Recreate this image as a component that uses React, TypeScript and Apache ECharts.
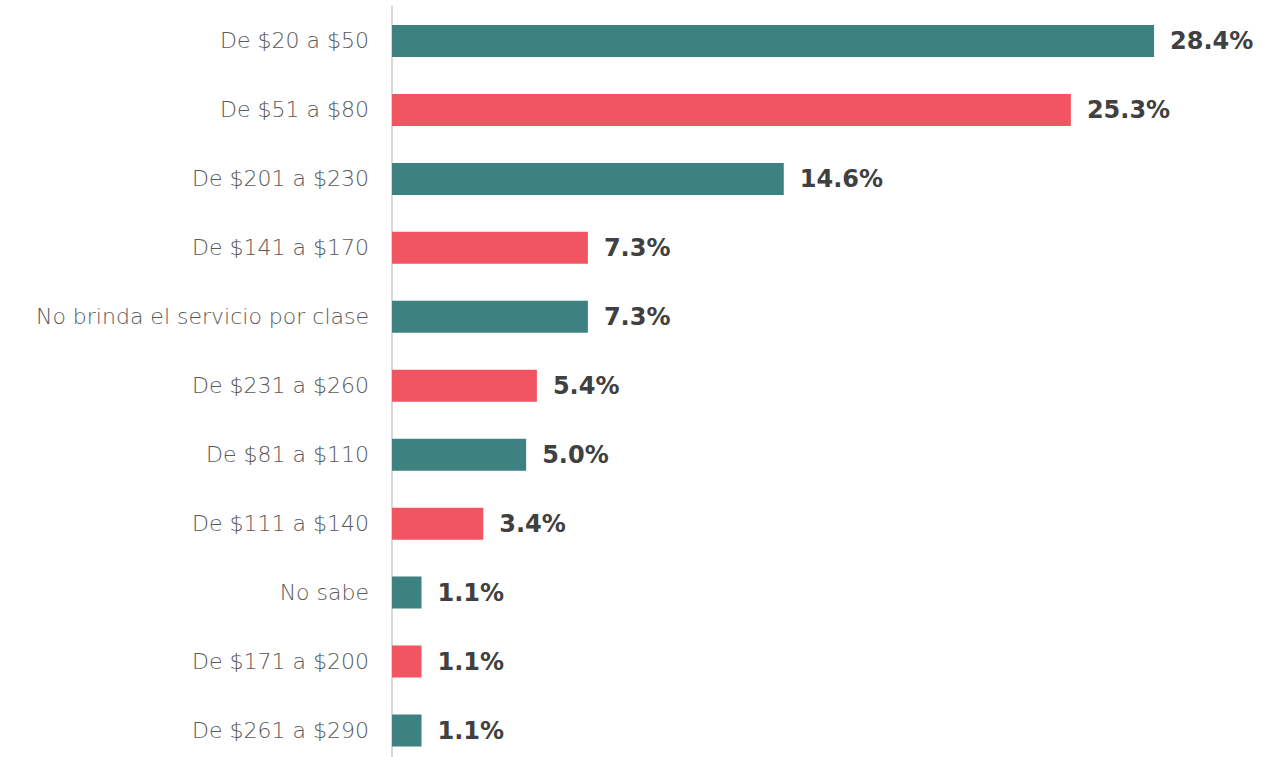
import React, { useEffect, useRef } from "react";
import * as echarts from "echarts";

const categories = [
  "De $20 a $50",
  "De $51 a $80",
  "De $201 a $230",
  "De $141 a $170",
  "No brinda el servicio por clase",
  "De $231 a $260",
  "De $81 a $110",
  "De $111 a $140",
  "No sabe",
  "De $171 a $200",
  "De $261 a $290",
];
const values = [28.4, 25.3, 14.6, 7.3, 7.3, 5.4, 5.0, 3.4, 1.1, 1.1, 1.1];
const palette = ["#3D8280", "#F25562"];

export default function App() {
  const ref = useRef<HTMLDivElement>(null);
  useEffect(() => {
    if (!ref.current) return;
    const chart = echarts.init(ref.current, undefined, { renderer: "svg" });
    chart.setOption({
      animation: false,
      backgroundColor: "#ffffff",
      grid: { left: 392, right: 66, top: 6.5, height: 758.5, containLabel: false },
      xAxis: {
        type: "value",
        min: 0,
        max: 30,
        show: false,
      },
      yAxis: {
        type: "category",
        inverse: true,
        data: categories,
        axisLine: { show: true, lineStyle: { color: "#d9d9d9", width: 2 } },
        axisTick: { show: false },
        axisLabel: {
          margin: 23,
          fontFamily: "DejaVu Sans",
          fontWeight: 200,
          fontSize: 22,
          color: "#595959",
        },
      },
      series: [
        {
          type: "bar",
          barWidth: 32,
          data: values.map((v, i) => ({
            value: v,
            itemStyle: { color: palette[i % 2] },
          })),
          label: {
            show: true,
            position: "right",
            distance: 16,
            fontFamily: "DejaVu Sans",
            fontWeight: 700,
            fontSize: 24,
            color: "#404040",
            formatter: (p: any) => p.value.toFixed(1) + "%",
          },
        },
      ],
    });
    return () => chart.dispose();
  }, []);
  return (
    <div style={{ position: "absolute", left: 0, top: 0, width: 1263, height: 757, overflow: "hidden" }}>
      <div ref={ref} style={{ width: 1263, height: 770 }} />
    </div>
  );
}
